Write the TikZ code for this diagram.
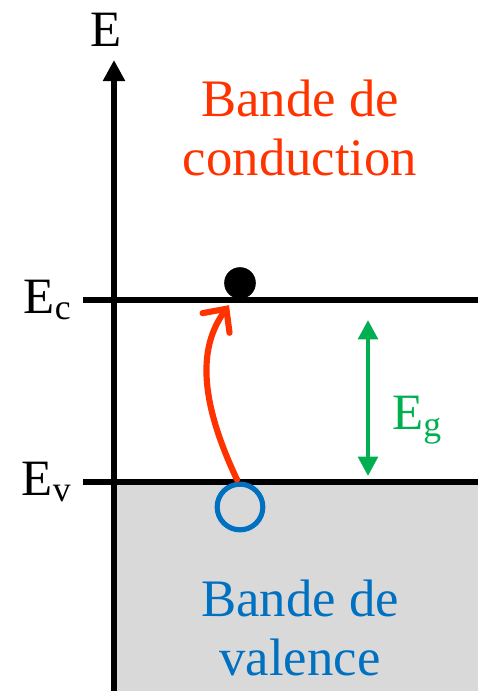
\documentclass[tikz,border=0pt]{standalone}
\usepackage{fontspec}
\setmainfont{Liberation Serif}
\usetikzlibrary{arrows.meta, positioning, calc}
\definecolor{bandred}{RGB}{255,51,0}
\definecolor{bandblue}{RGB}{0,112,192}
\definecolor{gapgreen}{RGB}{0,176,80}
\definecolor{bandgray}{RGB}{217,217,217}

\begin{document}
\begin{tikzpicture}[x=0.02cm,y=-0.02cm,
  lbl/.style={font=\fontsize{29}{34}\selectfont,align=center,inner sep=0pt},
  biglbl/.style={font=\fontsize{30}{34}\selectfont,align=center,inner sep=0pt},
  level/.style={line width=3.4pt,draw=black},
  gap/.style={{Triangle[length=11pt,width=11pt]}-{Triangle[length=11pt,width=11pt]},line width=2.6pt,draw=gapgreen}]
  \useasboundingbox (0,0) rectangle (478,691);
  %% valence band
  \fill[bandgray](115,483) rectangle (478,691);
  %% axis
  \coordinate(ax0) at (114,691);
  \coordinate(ax1) at (114,60);
  \draw[line width=3.4pt,-{Triangle[length=12pt,width=12pt]}](ax0)--(ax1);
  \node[lbl](E) at (106,30){E};
  %% levels
  \coordinate(ecL) at (83,300);\coordinate(ecR) at (478,300);
  \coordinate(evL) at (83,482);\coordinate(evR) at (478,482);
  \draw[level](ecL)--(ecR);
  \draw[level](evL)--(evR);
  \node[lbl,anchor=east](Ec) at (72,300){E\textsubscript{c}};
  \node[lbl,anchor=east](Ev) at (72,482){E\textsubscript{v}};
  %% band labels
  \node[biglbl,text=bandred](cb) at (300,128){Bande de\\conduction};
  \node[biglbl,text=bandblue](vb) at (300,628){Bande de\\valence};
  %% electron and hole
  \node[circle,fill=black,minimum size=18pt,inner sep=0pt](el) at (240,283){};
  \node[circle,draw=bandblue,line width=2.9pt,minimum size=26pt,inner sep=0pt](ho) at (240,507){};
  \draw[bandred,line width=3.5pt,line cap=round,-{Straight Barb[length=10pt,width=19pt,line cap=round]}]
    ($(ho.north)+(-3,-2)$) .. controls (197,395) and (200,345) .. ($(el.south)+(-11,6)$);
  %% gap
  \coordinate(g1) at (368,320);\coordinate(g2) at (368,476);
  \draw[gap](g1)--(g2);
  \node[lbl,text=gapgreen,anchor=west](Eg) at (392,420){E\textsubscript{g}};
\end{tikzpicture}
\end{document}
